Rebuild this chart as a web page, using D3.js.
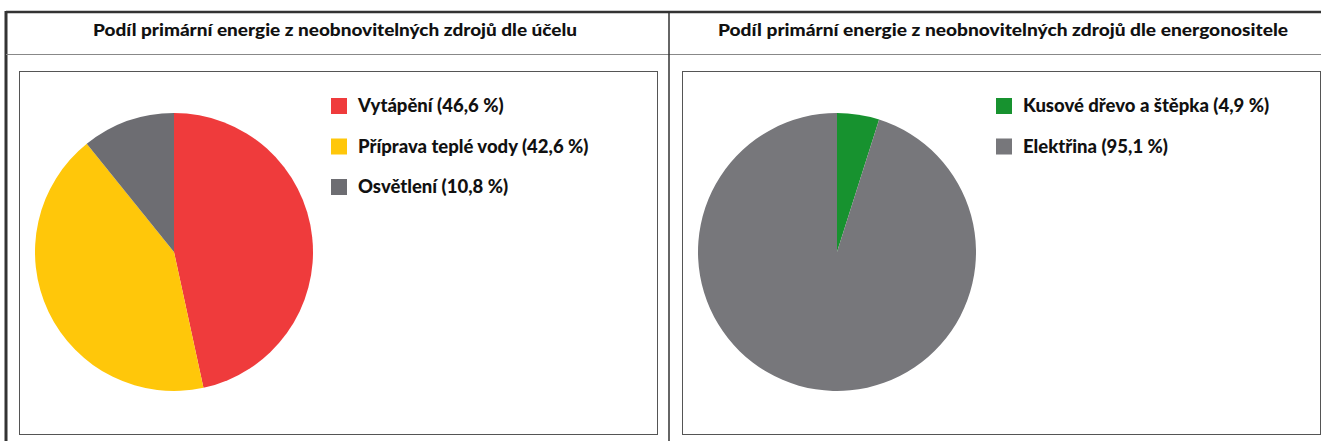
<!DOCTYPE html>
<html>
<head>
<meta charset="utf-8">
<script src="https://cdn.jsdelivr.net/npm/d3@7"></script>
<style>
  body { margin: 0; background: #fff; }
  svg { display: block; }
  text { font-family: Lato, "Noto Sans", sans-serif; font-weight: 900; fill: #111; }
</style>
</head>
<body>
<div id="chart"></div>
<script>
const titles = [
    "Podíl primární energie z neobnovitelných zdrojů dle účelu",
    "Podíl primární energie z neobnovitelných zdrojů dle energonositele"
];
const purposeLabels = ["Vytápění", "Příprava teplé vody", "Osvětlení"];
const purposeValues = [46.6, 42.6, 10.8];
const purposeColors = ["#ef3b3c", "#ffc70a", "#6d6d72"];
const carrierLabels = ["Kusové dřevo a štěpka", "Elektřina"];
const carrierValues = [4.9, 95.1];
const carrierColors = ["#17922f", "#77777b"];

document.addEventListener("DOMContentLoaded", () => {
    let width = 1321, height = 441;

    let svg = d3.select("#chart")
        .append("svg")
        .attr("width", width)
        .attr("height", height);

    // table frame
    svg.append("line").attr("x1", 6).attr("x2", width).attr("y1", 12).attr("y2", 12)
        .attr("stroke", "#333").attr("stroke-width", 2.5);
    svg.append("line").attr("x1", 6).attr("x2", 6).attr("y1", 11).attr("y2", height)
        .attr("stroke", "#333").attr("stroke-width", 3);
    svg.append("line").attr("x1", 6).attr("x2", width).attr("y1", 54.5).attr("y2", 54.5)
        .attr("stroke", "#888").attr("stroke-width", 1);
    svg.append("line").attr("x1", 669).attr("x2", 669).attr("y1", 12).attr("y2", height)
        .attr("stroke", "#333").attr("stroke-width", 1.5);

    const panels = [
        { title: titles[0], titleX: 335, titleW: 484, labels: purposeLabels, values: purposeValues,
          colors: purposeColors, box: [19, 71, 657, 434], cx: 174, legendX: 331 },
        { title: titles[1], titleX: 1003, titleW: 570, labels: carrierLabels, values: carrierValues,
          colors: carrierColors, box: [682, 71, 1320, 434], cx: 837, legendX: 996 }
    ];

    const fmt = v => v.toFixed(1).replace(".", ",") + " %";

    panels.forEach(p => {
        let [x0, y0, x1, y1] = p.box;

        svg.append("text")
            .attr("x", p.titleX)
            .attr("y", 30)
            .attr("dy", "0.35em")
            .attr("text-anchor", "middle")
            .attr("textLength", p.titleW)
            .attr("lengthAdjust", "spacingAndGlyphs")
            .style("font-size", "17px")
            .text(p.title);

        svg.append("rect")
            .attr("x", x0 + 0.5).attr("y", y0 + 0.5)
            .attr("width", x1 - x0).attr("height", y1 - y0)
            .attr("fill", "#fff").attr("stroke", "#555").attr("stroke-width", 1);

        let data = p.labels.map((l, i) => ({ label: l, value: p.values[i], color: p.colors[i] }));

        let pie = d3.pie().sort(null).value(d => d.value);
        let arc = d3.arc().innerRadius(0).outerRadius(139);

        let g = svg.append("g").attr("transform", "translate(" + p.cx + ",252)");
        g.selectAll("path")
            .data(pie(data))
            .enter()
            .append("path")
            .attr("d", arc)
            .attr("fill", d => d.data.color);

        let y = d3.scalePoint().domain(d3.range(3)).range([106, 187]);

        let leg = svg.append("g").selectAll("g")
            .data(data)
            .enter()
            .append("g")
            .attr("transform", (d, i) => "translate(" + p.legendX + "," + y(i) + ")");
        leg.append("rect")
            .attr("x", 0).attr("y", -8)
            .attr("width", 16).attr("height", 16)
            .attr("fill", d => d.color);
        leg.append("text")
            .attr("x", 27).attr("y", 0)
            .attr("dy", "0.35em")
            .style("font-size", "18.5px")
            .text(d => d.label + " (" + fmt(d.value) + ")");
    });
});
</script>
</body>
</html>
